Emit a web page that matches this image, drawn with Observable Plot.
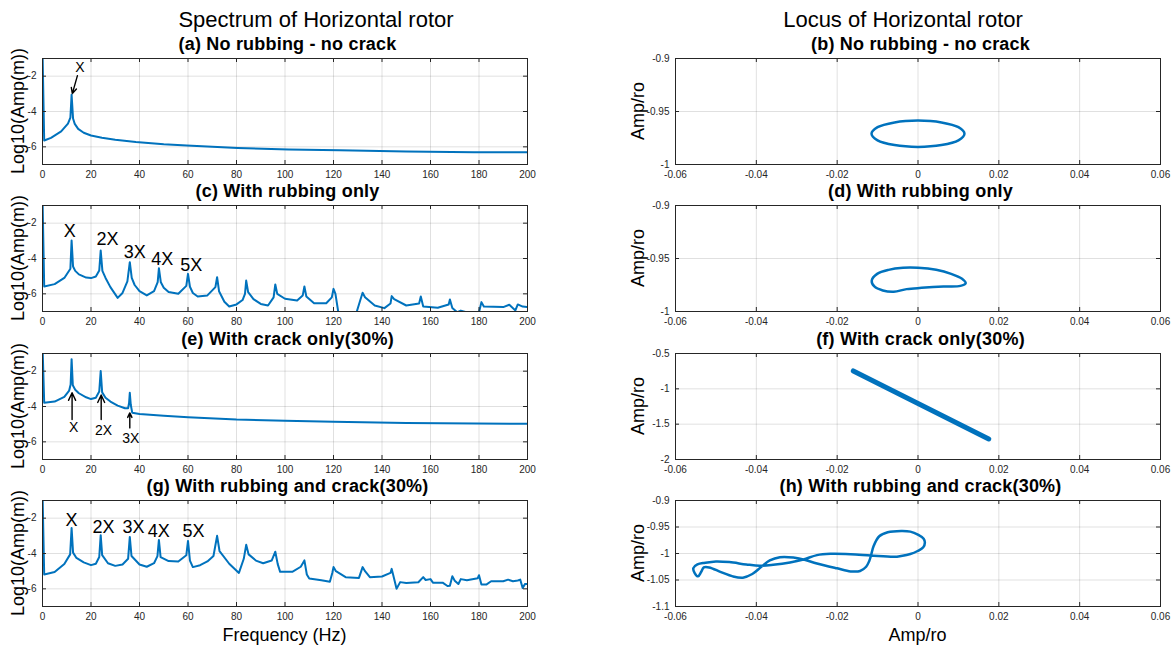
<!DOCTYPE html>
<html><head><meta charset="utf-8">
<script src="https://cdn.jsdelivr.net/npm/d3@7"></script>
<script src="https://cdn.jsdelivr.net/npm/@observablehq/plot@0.6"></script>
<style>
body{margin:0;background:#fff;}
#root{position:relative;width:1175px;height:647px;font-family:"Liberation Sans",Arial,sans-serif;color:#000;overflow:hidden;}
.t{position:absolute;white-space:nowrap;transform:translate(-50%,-50%);line-height:1;}
.rot{transform:translate(-50%,-50%) rotate(-90deg);}
.panel{position:absolute;}
</style></head><body><div id="root"></div>
<script>
// ---------- text ----------
const mainTitles = ["Spectrum of Horizontal rotor", "Locus of Horizontal rotor"];
const subTitles = ["(a) No rubbing - no crack", "(b) No rubbing - no crack",
  "(c) With rubbing only", "(d) With rubbing only",
  "(e) With crack only(30%)", "(f) With crack only(30%)",
  "(g) With rubbing and crack(30%)", "(h) With rubbing and crack(30%)"];
const specYLabel = "Log10(Amp(m))";
const locusYLabel = "Amp/ro";
const specXLabel = "Frequency (Hz)";
const locusXLabel = "Amp/ro";

// ---------- ticks ----------
const freqTicks = [0, 20, 40, 60, 80, 100, 120, 140, 160, 180, 200];
const specYTicks = [-6, -4, -2];
const locusXTicks = [-0.06, -0.04, -0.02, 0, 0.02, 0.04, 0.06];
const locusYTicksB = [-1, -0.95, -0.9];
const locusYTicksF = [-2, -1.5, -1, -0.5];
const locusYTicksH = [-1.1, -1.05, -1, -0.95, -0.9];

// ---------- spectra ----------
const freqA = [0, 0.7, 3.5, 7.7, 10.5, 11.5, 12, 12.6, 13.3, 14.7, 17, 20, 24.5, 30, 38.5, 50, 59.5, 70, 80.5, 101.5, 122.5, 150, 178, 200];
const ampA = [-0.5, -5.64, -5.49, -5.13, -4.69, -4.35, -3.05, -4.4, -4.7, -4.98, -5.2, -5.36, -5.48, -5.6, -5.73, -5.85, -5.92, -6.0, -6.06, -6.15, -6.2, -6.26, -6.3, -6.3];

const freqC = [0, 0.7, 5, 9, 11.5, 12, 12.6, 13.5, 15, 18, 20, 22, 23.4, 24, 24.7, 26, 28, 31, 33, 35, 36, 36.8, 38, 40, 43, 46, 47.5, 48, 48.8, 50, 52, 56, 59.3, 60, 60.8, 62, 64, 68, 71.3, 72, 72.8, 75, 77, 80, 82.5, 83.5, 84, 84.8, 87, 90, 93, 95.3, 96, 96.8, 100, 105, 107.3, 108, 108.8, 112, 117, 119.3, 120, 120.8, 122.5, 128.5, 131, 132, 133, 137, 141, 143.5, 144, 145, 150, 155.3, 156, 157, 163, 167.5, 168, 169, 171, 172.5, 175, 180, 181, 182, 190, 192.5, 195, 196, 198, 200];
const ampC = [-0.5, -5.58, -5.45, -5.1, -4.58, -2.98, -4.45, -4.7, -4.9, -5.08, -5.11, -5.02, -4.68, -3.55, -4.7, -5.1, -5.62, -6.23, -5.95, -5.3, -4.21, -5.1, -5.5, -5.85, -6.09, -5.85, -5.34, -4.55, -5.35, -5.65, -5.9, -6.0, -5.55, -4.87, -5.6, -5.95, -6.15, -6.09, -5.62, -5.06, -5.85, -6.45, -6.72, -6.6, -6.35, -6.0, -5.25, -5.9, -6.3, -6.57, -6.66, -6.2, -5.47, -6.0, -6.28, -6.38, -6.1, -5.58, -6.15, -6.53, -6.53, -6.2, -5.72, -6.0, -7.5, -7.5, -6.38, -5.94, -6.19, -6.66, -6.81, -6.55, -6.13, -6.3, -6.66, -6.55, -6.15, -6.72, -6.79, -6.6, -6.32, -6.8, -7.04, -6.95, -7.05, -7.05, -6.47, -6.72, -6.75, -6.62, -6.94, -6.6, -6.72, -6.75];

const freqE = [0, 0.7, 5, 9, 11, 11.6, 12, 12.5, 13.5, 15, 18, 20, 22, 23.4, 24, 24.6, 26, 28, 31, 34, 35.3, 35.7, 36, 36.4, 37, 40, 50, 60, 80, 100, 120, 150, 200];
const ampE = [-0.5, -3.79, -3.72, -3.45, -3.1, -2.75, -1.32, -2.8, -3.05, -3.25, -3.48, -3.58, -3.5, -3.15, -1.99, -3.2, -3.5, -3.72, -3.95, -4.1, -4.1, -3.8, -3.22, -3.9, -4.35, -4.42, -4.53, -4.61, -4.74, -4.8, -4.87, -4.93, -4.98];

const freqG = [0, 0.7, 5, 9, 11.4, 12, 12.6, 14, 17, 20, 22, 23.4, 24, 24.6, 27, 30, 33, 35.3, 36, 36.7, 40, 43, 46, 47.4, 48, 48.7, 52, 56, 59.3, 60, 60.8, 62, 65, 68, 70.5, 72, 73, 77, 81, 83, 84, 85, 88, 91, 94.5, 96, 97, 98, 103, 106.5, 108, 109, 110, 115, 118.5, 119.5, 120, 121, 125, 130.5, 132, 133, 135, 140, 143.5, 144, 145, 146, 147.5, 150, 155, 157, 158, 160, 161, 165, 167, 168, 169, 170, 171.5, 172.5, 175, 179.5, 180, 181, 183, 185, 190, 192, 194, 196, 197, 198, 199, 200];
const ampG = [-0.5, -5.19, -5.05, -4.6, -4.05, -2.56, -3.95, -4.25, -4.5, -4.66, -4.58, -4.2, -2.96, -4.09, -4.55, -4.7, -4.62, -4.3, -3.06, -4.14, -4.62, -4.75, -4.55, -4.15, -3.23, -4.2, -4.43, -4.45, -4.1, -3.29, -4.4, -4.77, -4.66, -4.45, -4.14, -3.0, -3.86, -4.58, -5.1, -4.3, -3.51, -4.05, -4.4, -4.55, -4.4, -3.9, -4.6, -5.04, -5.04, -4.75, -4.39, -5.19, -5.42, -5.51, -5.6, -5.1, -4.77, -5.0, -5.34, -5.38, -4.77, -5.0, -5.34, -5.3, -5.1, -4.87, -5.43, -5.99, -5.62, -5.67, -5.63, -5.34, -5.5, -5.45, -5.65, -5.65, -5.84, -5.82, -5.29, -5.54, -5.73, -5.45, -5.52, -5.4, -5.23, -5.76, -5.76, -5.57, -5.57, -5.48, -5.57, -5.53, -5.48, -5.95, -5.72, -5.72];

// ---------- spectrum annotations ----------
const labelsA = ["X"]; const labelAx = [15.4]; const labelAy = [-1.53];
const arrowA = {x1: [14.4], y1: [-1.97], x2: [12.3], y2: [-2.99]};
const labelsC = ["X", "2X", "3X", "4X", "5X"];
const labelCx = [11.2, 26.8, 38.0, 49.4, 61.3];
const labelCy = [-2.46, -2.9, -3.64, -4.06, -4.4];
const labelsE = ["X", "2X", "3X"];
const labelEx = [12.9, 25.2, 36.4];
const labelEy = [-5.17, -5.35, -5.82];
const arrowE = {x1: [12.2, 24.2, 36.0], y1: [-4.74, -4.74, -5.21], x2: [12.2, 24.2, 36.0], y2: [-3.22, -3.35, -4.36]};
const labelsG = ["X", "2X", "3X", "4X", "5X"];
const labelGx = [12.0, 25.2, 37.5, 47.9, 62.3];
const labelGy = [-2.09, -2.49, -2.49, -2.75, -2.75];

// ---------- loci ----------
const locusBx = [0.0115, 0.0100, 0.0058, 0, -0.0058, -0.0100, -0.0115, -0.0100, -0.0058, 0, 0.0058, 0.0100];
const locusBy = [-0.971, -0.9648, -0.9603, -0.9586, -0.9603, -0.9648, -0.971, -0.9772, -0.9817, -0.9834, -0.9817, -0.9772];

const locusDx = [-0.01145, -0.0101, -0.0073, -0.0037, 0, 0.0045, 0.0082, 0.0109, 0.0118, 0.0105, 0.0063, 0.0009, -0.0028, -0.006, -0.0087, -0.0108];
const locusDy = [-0.9708, -0.9645, -0.9607, -0.9588, -0.9588, -0.9607, -0.9645, -0.9692, -0.9733, -0.9758, -0.9764, -0.9777, -0.9789, -0.9814, -0.9802, -0.9764];

const locusFx = [-0.016, 0.0175];
const locusFy = [-0.747, -1.71];

const locusHx = [-0.01167, -0.0110, -0.00958, -0.0075, -0.00417, -0.0019, 0.0001, 0.0014, 0.0017, 0.0013, -0.0001, -0.0019, -0.0042, -0.00583, -0.01167, -0.01667, -0.02167, -0.025, -0.02833, -0.03167, -0.03583, -0.03917, -0.0425, -0.04667, -0.05, -0.05267, -0.05458, -0.05558, -0.05525, -0.05442, -0.05367, -0.053, -0.05167, -0.04875, -0.04583, -0.04333, -0.041, -0.03875, -0.03667, -0.03417, -0.03083, -0.02833, -0.025, -0.02, -0.01667, -0.01433, -0.01283, -0.01208];
const locusHy = [-1.005, -0.98625, -0.9675, -0.960, -0.9575, -0.9587, -0.965, -0.972, -0.9795, -0.9883, -0.9953, -1.001, -1.0047, -1.00625, -1.00375, -1.00125, -1.0006, -1.0031, -1.01125, -1.0169, -1.02125, -1.0231, -1.0206, -1.01625, -1.015, -1.0175, -1.0206, -1.0275, -1.0369, -1.0431, -1.035, -1.02625, -1.02625, -1.035, -1.0431, -1.0456, -1.03875, -1.025, -1.0131, -1.0069, -1.0075, -1.01125, -1.01875, -1.028, -1.03375, -1.033, -1.025, -1.0144];

// ---------- helpers ----------
const BLUE = "#0072BD";
const AXC = "#262626";
const FONT = "'Liberation Sans', Arial, sans-serif";
const root = document.getElementById("root");

function addText(str, x, y, size, opts = {}) {
  const d = document.createElement("div");
  d.className = "t" + (opts.rotate ? " rot" : "");
  d.textContent = str;
  d.style.left = x + "px"; d.style.top = y + "px";
  d.style.fontSize = size + "px";
  if (opts.bold) d.style.fontWeight = "bold";
  if (opts.ls) d.style.letterSpacing = opts.ls + "px";
  root.appendChild(d);
}

const zip = (xs, ys) => xs.map((x, i) => ({x, y: ys[i]}));

function panel(cfg) {
  const {left, top, mL, mR, W, H, xDomain, xTicks, yDomain, yTicks, marks} = cfg;
  const mT = 6, mB = 22;
  const fmt = d => String(d);
  const svg = Plot.plot({
    width: mL + W + mR, height: mT + H + mB,
    marginLeft: mL, marginRight: mR, marginTop: mT, marginBottom: mB,
    style: {fontFamily: FONT, fontSize: "10px", color: AXC, background: "transparent", overflow: "visible"},
    x: {domain: xDomain, ticks: xTicks, tickFormat: fmt, tickSize: 0, tickPadding: 6, label: null},
    y: {domain: yDomain, ticks: yTicks, tickFormat: fmt, tickSize: 0, tickPadding: 6, label: null},
    marks: [
      Plot.gridX(xTicks, {stroke: "#000", strokeOpacity: 0.12}),
      Plot.gridY(yTicks, {stroke: "#000", strokeOpacity: 0.12}),
      ...marks,
      Plot.tickX(xTicks, {x: d => d, insetTop: H - 4, stroke: AXC}),
      Plot.tickX(xTicks, {x: d => d, insetBottom: H - 4, stroke: AXC}),
      Plot.tickY(yTicks, {y: d => d, insetRight: W - 4, stroke: AXC}),
      Plot.tickY(yTicks, {y: d => d, insetLeft: W - 4, stroke: AXC}),
      Plot.frame({stroke: AXC})
    ]
  });
  svg.classList.add("panel");
  svg.style.left = (left - mL) + "px";
  svg.style.top = (top - mT) + "px";
  root.appendChild(svg);
}

const tops = [58, 205, 353, 500];
const H = 106;
const LX0 = 42, LW = 485;
const RX0 = 675, RW = 485;

function specPanel(i, fr, am, labels, lx, ly, lsize, arrows) {
  const marks = [Plot.line(zip(fr, am), {x: "x", y: "y", stroke: BLUE, strokeWidth: 2, clip: true})];
  if (arrows) {
    const ad = arrows.x1.map((v, k) => ({x1: v, y1: arrows.y1[k], x2: arrows.x2[k], y2: arrows.y2[k]}));
    marks.push(Plot.arrow(ad, {x1: "x1", y1: "y1", x2: "x2", y2: "y2", stroke: "#000", strokeWidth: 1.4, headLength: 9, headAngle: 50}));
  }
  if (labels) {
    const td = labels.map((t, k) => ({t, x: lx[k], y: ly[k]}));
    marks.push(Plot.text(td, {x: "x", y: "y", text: "t", fontSize: lsize, fill: "#000"}));
  }
  panel({left: LX0, top: tops[i], mL: 42, mR: 14, W: LW, H,
    xDomain: [0, 200], xTicks: freqTicks, yDomain: [-7, -1], yTicks: specYTicks, marks});
}

function locusPanel(i, xs, ys, yDomain, yTicks, curve, sw) {
  const marks = [Plot.line(zip(xs, ys), {x: "x", y: "y", stroke: BLUE, strokeWidth: sw, curve, clip: true})];
  panel({left: RX0, top: tops[i], mL: 69, mR: 14, W: RW, H,
    xDomain: [-0.06, 0.06], xTicks: locusXTicks, yDomain, yTicks, marks});
}

specPanel(0, freqA, ampA, labelsA, labelAx, labelAy, 14, arrowA);
specPanel(1, freqC, ampC, labelsC, labelCx, labelCy, 18, null);
specPanel(2, freqE, ampE, labelsE, labelEx, labelEy, 14, arrowE);
specPanel(3, freqG, ampG, labelsG, labelGx, labelGy, 18, null);

locusPanel(0, locusBx, locusBy, [-1, -0.9], locusYTicksB, "catmull-rom-closed", 2.5);
locusPanel(1, locusDx, locusDy, [-1, -0.9], locusYTicksB, "catmull-rom-closed", 2.5);
locusPanel(2, locusFx, locusFy, [-2, -0.5], locusYTicksF, "linear", 5);
locusPanel(3, locusHx, locusHy, [-1.1, -0.9], locusYTicksH, "catmull-rom-closed", 2.5);

// titles & labels
addText(mainTitles[0], 316, 20, 22);
addText(mainTitles[1], 903, 20, 22);
const subY = [44, 191, 339, 486];
subY.forEach((y, k) => {
  addText(subTitles[2 * k], LX0 + LW / 2 + 3, y, 18, {bold: true, ls: 0.2});
  addText(subTitles[2 * k + 1], RX0 + RW / 2 + 3, y, 18, {bold: true, ls: 0.2});
  addText(specYLabel, 18, tops[k] + H / 2, 18, {rotate: true});
  addText(locusYLabel, 638, tops[k] + H / 2, 18, {rotate: true});
});
addText(specXLabel, LX0 + LW / 2, 635, 18);
addText(locusXLabel, RX0 + RW / 2, 635, 18);
</script></body></html>
